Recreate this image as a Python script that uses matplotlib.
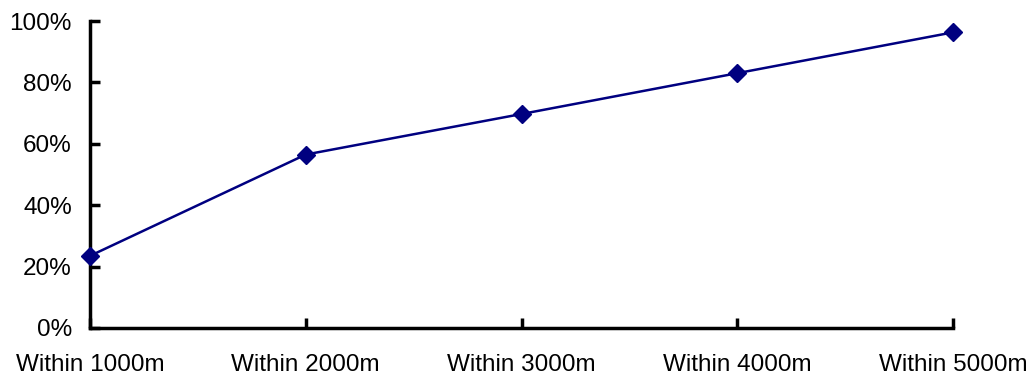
import matplotlib
matplotlib.use("Agg")
import matplotlib.pyplot as plt
from matplotlib.ticker import PercentFormatter

categories = ["Within 1000m", "Within 2000m", "Within 3000m", "Within 4000m", "Within 5000m"]
values = [23.5, 56.5, 69.7, 83.0, 96.3]
yticks = [0, 20, 40, 60, 80, 100]

plt.rcParams['font.family'] = ['Liberation Sans', 'DejaVu Sans']

fig = plt.figure(figsize=(10.36, 3.76), dpi=100)
ax = fig.add_axes([90/1036, 48/376, (953-90)/1036, (328-21)/376])
x = list(range(len(categories)))
ax.plot(x, values, color="#000080", linewidth=1.8, marker="D", markersize=9,
        markerfacecolor="#000080", markeredgecolor="#000080", clip_on=False, zorder=5)
ax.set_xlim(0, len(categories) - 1)
ax.set_ylim(0, 100)
ax.set_yticks(yticks)
ax.yaxis.set_major_formatter(PercentFormatter(decimals=0))
ax.set_xticks(x)
ax.set_xticklabels(categories)
for s in ["top", "right"]:
    ax.spines[s].set_visible(False)
for s in ["left", "bottom"]:
    ax.spines[s].set_linewidth(2.5)
    ax.spines[s].set_color("black")
ax.tick_params(axis="y", direction="in", length=7, width=2.5, labelsize=17.5, pad=13)
ax.tick_params(axis="x", direction="in", length=7, width=2.5, labelsize=17.5, pad=19)
fig.savefig("out.png", dpi=100)
